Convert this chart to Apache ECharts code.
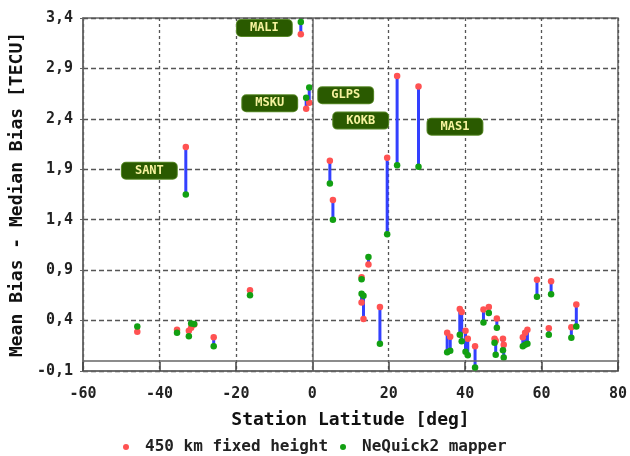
<!DOCTYPE html>
<html>
<head>
<meta charset="utf-8">
<script src="https://cdn.jsdelivr.net/npm/echarts@6/dist/echarts.min.js"></script>
<style>html,body{margin:0;padding:0;background:#fff;}#c{width:630px;height:456px;}</style>
</head>
<body>
<div id="c"></div>
<script>
// Station latitudes (deg)
var stationLat = [-45.8, -35.4, -33.1, -32.3, -31.7, -30.9, -25.8, -16.3, -3.0, -1.6, -0.8,
  4.6, 5.4, 12.9, 12.9, 13.4, 14.7, 17.7, 19.6, 22.2, 27.8,
  35.3, 36.1, 38.6, 39.1, 40.1, 40.7, 42.6, 44.8, 46.2, 48.3, 47.7, 48.0, 49.9, 50.1,
  55.1, 55.7, 56.3, 58.8, 61.9, 62.5, 67.8, 69.1];
// 450 km fixed height (red)
var fixedHeight = [0.29, 0.31, 2.12, 0.30, 0.33, 0.36, 0.235, 0.70, 3.24, 2.50, 2.56,
  1.985, 1.595, 0.83, 0.58, 0.415, 0.955, 0.535, 2.015, 2.825, 2.72,
  0.28, 0.24, 0.515, 0.485, 0.30, 0.22, 0.145, 0.51, 0.535, 0.42, 0.22, 0.20, 0.22, 0.16,
  0.235, 0.28, 0.31, 0.805, 0.325, 0.79, 0.335, 0.56];
// NeQuick2 mapper (green)
var neQuick = [0.34, 0.28, 1.65, 0.245, 0.37, 0.365, 0.145, 0.65, 3.36, 2.61, 2.71,
  1.76, 1.40, 0.81, 0.665, 0.645, 1.03, 0.17, 1.255, 1.94, 1.925,
  0.085, 0.10, 0.26, 0.195, 0.09, 0.055, -0.065, 0.38, 0.475, 0.33, 0.18, 0.06, 0.105, 0.035,
  0.145, 0.16, 0.17, 0.635, 0.26, 0.66, 0.23, 0.34];
// Labelled stations
var labelNames = ['SANT', 'MALI', 'MSKU', 'GLPS', 'KOKB', 'MAS1'];
var labelStationIdx = [2, 8, 9, 10, 19, 20];
var labelSide = ['left', 'left', 'left', 'right', 'left', 'right'];
// Axis ticks
var xTicks = [-60, -40, -20, 0, 20, 40, 60, 80];
var yTicks = [-0.1, 0.4, 0.9, 1.4, 1.9, 2.4, 2.9, 3.4];

var FONT = 'DejaVu Sans Mono';
var redData = stationLat.map(function (x, i) { return [x, fixedHeight[i]]; });
var greenData = stationLat.map(function (x, i) { return [x, neQuick[i]]; });
var pairData = stationLat.map(function (x, i) { return [x, fixedHeight[i], neQuick[i]]; });
var labelData = labelNames.map(function (n, k) {
  var i = labelStationIdx[k];
  return {
    name: n,
    value: [stationLat[i], (fixedHeight[i] + neQuick[i]) / 2],
    label: { position: labelSide[k] }
  };
});

var chart = echarts.init(document.getElementById('c'), null, { renderer: 'canvas' });
chart.setOption({
  animation: false,
  backgroundColor: '#ffffff',
  grid: { left: 80, right: 8, top: 18, bottom: 85, show: true, borderColor: '#666', borderWidth: 1.5, backgroundColor: 'transparent' },
  legend: {
    left: 123, top: 439, padding: 0,
    itemWidth: 6, itemHeight: 6, itemGap: 12,
    textStyle: { fontFamily: FONT, fontWeight: 'bold', fontSize: 16, color: '#222', padding: [0, 0, 0, 11] },
    data: [
      { name: '450 km fixed height', icon: 'circle' },
      { name: 'NeQuick2 mapper', icon: 'circle' }
    ]
  },
  xAxis: {
    type: 'value', min: xTicks[0], max: xTicks[xTicks.length - 1], interval: 20,
    name: 'Station Latitude [deg]', nameLocation: 'middle', nameGap: 40,
    nameTextStyle: { fontFamily: FONT, fontWeight: 'bold', fontSize: 18, color: '#111' },
    axisLine: { onZero: false, lineStyle: { color: '#666', width: 1.5 } },
    axisTick: { inside: true, length: 9, lineStyle: { color: '#444', width: 1.5 } },
    axisLabel: { fontFamily: FONT, fontWeight: 'bold', fontSize: 15, color: '#222', margin: 16 },
    splitLine: { show: true, lineStyle: { color: '#555', width: 1.3, type: [3, 3] } }
  },
  yAxis: {
    type: 'value', min: yTicks[0], max: yTicks[yTicks.length - 1], interval: 0.5,
    name: 'Mean Bias - Median Bias [TECU]', nameLocation: 'middle', nameGap: 54,
    nameTextStyle: { fontFamily: FONT, fontWeight: 'bold', fontSize: 18, color: '#111' },
    axisLine: { onZero: false, lineStyle: { color: '#666', width: 1.5 } },
    axisTick: { show: true, length: 3, lineStyle: { color: '#666' } },
    axisLabel: {
      fontFamily: FONT, fontWeight: 'bold', fontSize: 15, color: '#222', margin: 10,
      formatter: function (v) { return v.toFixed(1).replace('.', ','); }
    },
    splitLine: { show: true, lineStyle: { color: '#555', width: 1.3, type: [5, 3] } }
  },
  series: [
    {
      type: 'custom',
      name: 'pairs',
      data: pairData,
      silent: true,
      z: 2,
      renderItem: function (params, api) {
        var p1 = api.coord([api.value(0), api.value(1)]);
        var p2 = api.coord([api.value(0), api.value(2)]);
        return { type: 'line', shape: { x1: p1[0], y1: p1[1], x2: p2[0], y2: p2[1] },
          style: { stroke: '#3340ff', lineWidth: 3 } };
      },
      markLine: {
        silent: true, symbol: 'none', label: { show: false },
        lineStyle: { color: '#666', width: 1.5, type: 'solid', opacity: 1 },
        data: [{ xAxis: 0 }, { yAxis: 0 }]
      }
    },
    {
      type: 'scatter', name: '450 km fixed height', data: redData,
      symbol: 'circle', symbolSize: 6.5, z: 3,
      itemStyle: { color: '#ff5252', opacity: 1 }
    },
    {
      type: 'scatter', name: 'NeQuick2 mapper', data: greenData,
      symbol: 'circle', symbolSize: 6.5, z: 4,
      itemStyle: { color: '#12a012', opacity: 1 }
    },
    {
      type: 'scatter', name: 'labels', data: labelData,
      symbolSize: 0, z: 5, silent: true,
      itemStyle: { opacity: 1 },
      label: {
        show: true, distance: 9, opacity: 1,
        formatter: '{b}',
        fontFamily: FONT, fontWeight: 'bold', fontSize: 12, color: '#f6f29e',
        backgroundColor: '#2a5a00', borderColor: '#5a8a2a', borderWidth: 1,
        borderRadius: 4, padding: [2, 13, 2, 13], lineHeight: 12
      }
    }
  ]
});
</script>
</body>
</html>
